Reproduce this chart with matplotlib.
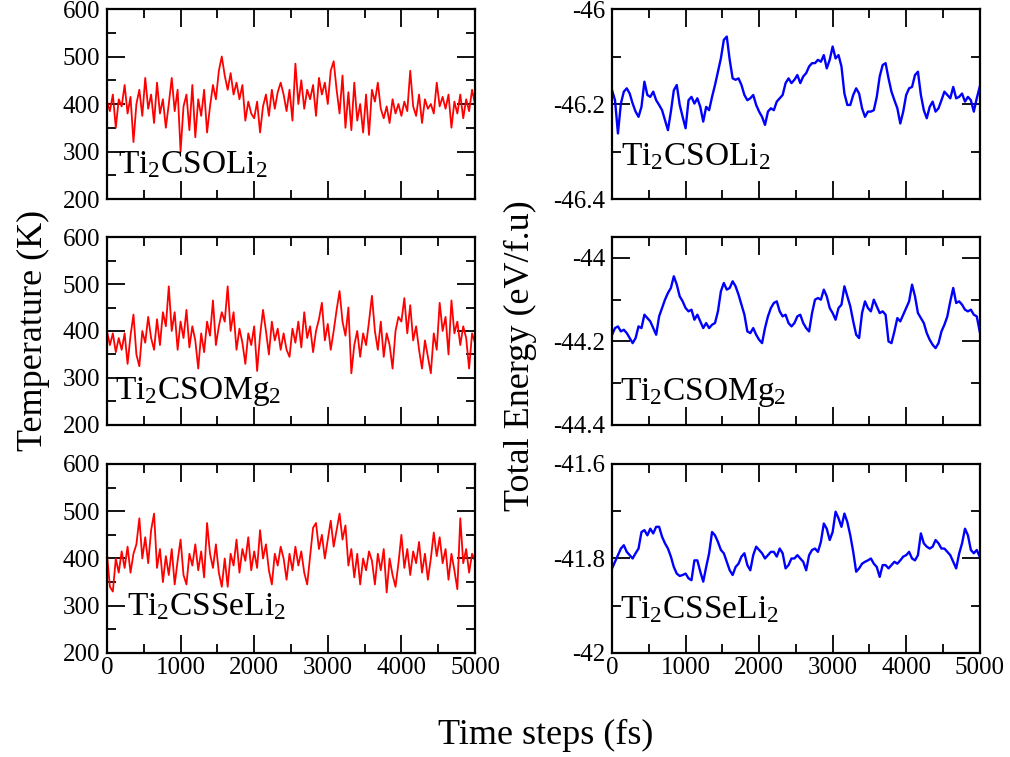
import numpy as np
import matplotlib
matplotlib.use("Agg")
import matplotlib.pyplot as plt
from matplotlib.ticker import MultipleLocator

plt.rcParams['font.family'] = ['Liberation Serif', 'DejaVu Serif']
plt.rcParams['mathtext.fontset'] = 'custom'
plt.rcParams['mathtext.rm'] = 'Liberation Serif'
plt.rcParams['mathtext.it'] = 'Liberation Serif:italic'
plt.rcParams['axes.unicode_minus'] = False

# time axis (fs), one reading every 40 fs
t = np.arange(0, 5001, 40)

names = ["Ti$_2$CSOLi$_2$", "Ti$_2$CSOMg$_2$", "Ti$_2$CSSeLi$_2$"]

# temperature (K)
temp_csoli = [405, 385, 420, 350, 410, 395, 440, 380, 415, 320,
              400, 430, 375, 455, 390, 420, 360, 445, 380, 410,
              350, 400, 455, 385, 430, 300, 395, 420, 345, 440,
              330, 410, 375, 430, 340, 395, 440, 410, 470, 500,
              460, 430, 465, 420, 445, 410, 440, 365, 405, 380,
              370, 405, 340, 395, 420, 375, 430, 390, 425, 445,
              420, 385, 430, 365, 485, 400, 450, 390, 430, 410,
              440, 375, 455, 420, 445, 400, 470, 490, 430, 380,
              460, 350, 425, 345, 445, 365, 400, 340, 420, 335,
              430, 405, 445, 390, 370, 395, 360, 410, 380, 400,
              375, 405, 385, 470, 395, 375, 420, 360, 410, 390,
              400, 380, 445, 395, 415, 390, 420, 350, 405, 380,
              420, 370, 410, 385, 430, 400]
temp_csomg = [400, 370, 395, 355, 385, 360, 395, 330, 390, 435,
              350, 325, 400, 375, 430, 385, 360, 425, 370, 440,
              410, 495, 400, 440, 360, 420, 385, 445, 365, 410,
              380, 320, 395, 355, 420, 390, 465, 370, 410, 440,
              420, 495, 400, 440, 360, 405, 375, 330, 395, 370,
              410, 315, 390, 445, 400, 350, 420, 380, 405, 360,
              395, 360, 345, 405, 375, 420, 365, 440, 385, 410,
              355, 400, 425, 460, 380, 415, 360, 400, 445, 485,
              420, 390, 450, 310, 370, 400, 345, 395, 370, 420,
              475, 400, 360, 420, 345, 395, 370, 320, 400, 430,
              420, 470, 395, 455, 380, 410, 360, 320, 380, 345,
              310, 395, 360, 460, 400, 430, 350, 465, 395, 420,
              370, 410, 385, 320, 395, 375]
temp_cssli = [410, 340, 330, 400, 370, 415, 380, 425, 370, 410,
              430, 485, 400, 445, 390, 460, 495, 380, 420, 350,
              405, 365, 420, 345, 395, 440, 365, 345, 410, 385,
              430, 375, 415, 360, 475, 410, 380, 430, 370, 340,
              400, 340, 410, 385, 440, 370, 420, 395, 445, 375,
              415, 380, 460, 400, 430, 375, 345, 410, 385, 425,
              400, 355, 410, 375, 425, 385, 415, 370, 345, 405,
              465, 475, 420, 450, 400, 440, 480, 425, 460, 495,
              440, 470, 385, 420, 360, 410, 345, 400, 375, 415,
              395, 345, 410, 375, 420, 328, 400, 365, 340, 390,
              450, 380, 420, 365, 415, 390, 435, 370, 410, 355,
              400, 455, 405, 445, 390, 420, 355, 410, 375, 335,
              485, 390, 420, 370, 410, 395]

# total energy (eV/f.u)
en_csoli = [-46.171, -46.192, -46.262, -46.199, -46.174, -46.167, -46.178, -46.199, -46.216, -46.227,
            -46.206, -46.153, -46.181, -46.185, -46.174, -46.192, -46.202, -46.213, -46.234, -46.255,
            -46.216, -46.171, -46.160, -46.202, -46.227, -46.251, -46.192, -46.185, -46.199, -46.188,
            -46.206, -46.237, -46.206, -46.213, -46.185, -46.160, -46.132, -46.104, -46.065, -46.058,
            -46.107, -46.146, -46.149, -46.146, -46.160, -46.181, -46.192, -46.188, -46.181, -46.202,
            -46.216, -46.227, -46.244, -46.216, -46.209, -46.213, -46.195, -46.188, -46.181, -46.156,
            -46.146, -46.156, -46.149, -46.139, -46.156, -46.142, -46.135, -46.121, -46.114, -46.114,
            -46.107, -46.111, -46.097, -46.125, -46.107, -46.079, -46.104, -46.097, -46.121, -46.178,
            -46.202, -46.202, -46.181, -46.167, -46.178, -46.209, -46.227, -46.216, -46.216, -46.213,
            -46.185, -46.142, -46.118, -46.114, -46.146, -46.174, -46.192, -46.209, -46.241, -46.216,
            -46.181, -46.167, -46.164, -46.139, -46.132, -46.181, -46.213, -46.230, -46.206, -46.195,
            -46.216, -46.209, -46.192, -46.174, -46.181, -46.188, -46.164, -46.188, -46.185, -46.178,
            -46.195, -46.185, -46.192, -46.216, -46.188, -46.164]
en_csomg = [-44.184, -44.168, -44.164, -44.176, -44.172, -44.180, -44.192, -44.204, -44.192, -44.164,
            -44.168, -44.136, -44.144, -44.152, -44.168, -44.184, -44.140, -44.120, -44.100, -44.084,
            -44.072, -44.044, -44.064, -44.092, -44.104, -44.120, -44.128, -44.124, -44.148, -44.136,
            -44.152, -44.168, -44.156, -44.168, -44.160, -44.156, -44.128, -44.080, -44.060, -44.076,
            -44.072, -44.056, -44.068, -44.088, -44.112, -44.136, -44.176, -44.180, -44.168, -44.184,
            -44.196, -44.204, -44.168, -44.140, -44.120, -44.108, -44.104, -44.128, -44.140, -44.136,
            -44.156, -44.164, -44.156, -44.140, -44.136, -44.156, -44.168, -44.176, -44.132, -44.100,
            -44.096, -44.100, -44.076, -44.092, -44.120, -44.132, -44.148, -44.120, -44.112, -44.068,
            -44.092, -44.116, -44.152, -44.184, -44.192, -44.132, -44.104, -44.120, -44.128, -44.100,
            -44.116, -44.132, -44.128, -44.136, -44.200, -44.204, -44.176, -44.144, -44.152, -44.136,
            -44.120, -44.104, -44.064, -44.092, -44.132, -44.144, -44.156, -44.180, -44.196, -44.208,
            -44.216, -44.204, -44.176, -44.160, -44.140, -44.104, -44.072, -44.108, -44.104, -44.112,
            -44.124, -44.128, -44.124, -44.136, -44.140, -44.176]
en_cssli = [-41.821, -41.807, -41.793, -41.779, -41.772, -41.786, -41.793, -41.800, -41.789, -41.779,
            -41.744, -41.740, -41.751, -41.737, -41.747, -41.733, -41.733, -41.754, -41.768, -41.779,
            -41.796, -41.818, -41.832, -41.837, -41.835, -41.832, -41.842, -41.846, -41.804, -41.804,
            -41.828, -41.849, -41.818, -41.789, -41.744, -41.751, -41.765, -41.782, -41.789, -41.807,
            -41.825, -41.835, -41.818, -41.811, -41.796, -41.789, -41.814, -41.825, -41.793, -41.775,
            -41.782, -41.789, -41.800, -41.793, -41.786, -41.786, -41.796, -41.779, -41.789, -41.821,
            -41.814, -41.800, -41.800, -41.793, -41.800, -41.807, -41.825, -41.793, -41.782, -41.779,
            -41.786, -41.765, -41.726, -41.737, -41.761, -41.744, -41.701, -41.715, -41.733, -41.705,
            -41.723, -41.751, -41.786, -41.828, -41.821, -41.811, -41.807, -41.804, -41.800, -41.811,
            -41.818, -41.839, -41.814, -41.814, -41.821, -41.814, -41.807, -41.811, -41.804, -41.796,
            -41.793, -41.786, -41.800, -41.804, -41.793, -41.747, -41.768, -41.775, -41.779, -41.775,
            -41.761, -41.768, -41.779, -41.779, -41.786, -41.793, -41.807, -41.821, -41.790, -41.768,
            -41.737, -41.751, -41.782, -41.789, -41.782, -41.796]

temps = [temp_csoli, temp_csomg, temp_cssli]
energies = [en_csoli, en_csomg, en_cssli]
e_lims = [(-46.4, -46.0), (-44.4, -43.95), (-42.0, -41.6)]
e_ticks = [[-46.4, -46.2, -46.0], [-44.4, -44.2, -44.0], [-42.0, -41.8, -41.6]]
e_labels = [["-46.4", "-46.2", "-46"], ["-44.4", "-44.2", "-44"], ["-42", "-41.8", "-41.6"]]
t_label_pos = [(150, 255), (110, 256), (270, 280)]
e_label_pos = [(122, -46.328), (110, -44.34), (110, -41.927)]

fig = plt.figure(figsize=(10.1, 7.57), dpi=100)

rows = [(0.7371, 0.2510), (0.4386, 0.2483), (0.1374, 0.2497)]
tick_fs = 18

def style(ax):
    for s in ax.spines.values():
        s.set_linewidth(1.6)
    ax.tick_params(which='both', direction='in', top=True, right=True,
                   labelsize=tick_fs, width=1.3)
    ax.tick_params(which='major', length=13, pad=5)
    ax.tick_params(which='minor', length=6.5)
    ax.tick_params(axis='x', pad=3)
    ax.set_xlim(0, 5000)
    ax.xaxis.set_major_locator(MultipleLocator(1000))
    ax.xaxis.set_minor_locator(MultipleLocator(500))

for i in range(3):
    b, h = rows[i]
    axl = fig.add_axes([0.1059, b, 0.3644, h])
    axl.plot(t, temps[i], color='#ff0000', lw=1.3)
    style(axl)
    axl.set_ylim(200, 600)
    axl.yaxis.set_major_locator(MultipleLocator(100))
    axl.yaxis.set_minor_locator(MultipleLocator(50))
    axl.text(t_label_pos[i][0], t_label_pos[i][1], names[i], fontsize=24,
             va='baseline', ha='left')

    axr = fig.add_axes([0.606, b, 0.364, h])
    axr.plot(t, energies[i], color='#0000ff', lw=1.7)
    style(axr)
    axr.set_ylim(*e_lims[i])
    axr.set_yticks(e_ticks[i], e_labels[i])
    axr.yaxis.set_minor_locator(MultipleLocator(0.1))
    axr.text(e_label_pos[i][0], e_label_pos[i][1], names[i], fontsize=24,
             va='baseline', ha='left')

    if i < 2:
        axl.set_xticklabels([])
        axr.set_xticklabels([])

fig.text(0.033, 0.564, "Temperature (K)", rotation=90, fontsize=26,
         ha='center', va='center')
fig.text(0.515, 0.53, "Total Energy (eV/f.u)", rotation=90, fontsize=26,
         ha='center', va='center')
fig.text(0.54, 0.029, "Time steps (fs)", fontsize=26, ha='center', va='center')

fig.savefig("out.png", dpi=100)
